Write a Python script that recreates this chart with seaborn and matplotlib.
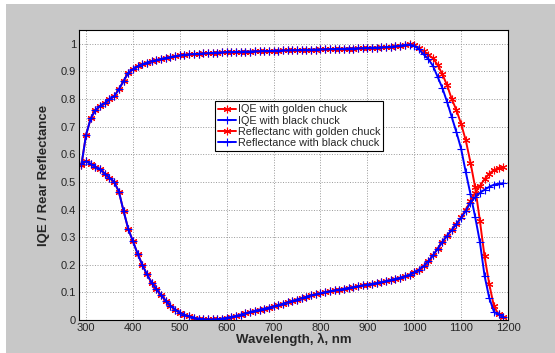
import numpy as np
import pandas as pd
import matplotlib
matplotlib.use("Agg")
import matplotlib.pyplot as plt
import seaborn as sns
from matplotlib.patches import Rectangle

# wavelength grid (nm)
wavelength = list(range(290, 1201, 10))

iqe_black = [
    0.560, 0.670, 0.730, 0.760, 0.775, 0.785, 0.800, 0.810, 0.835, 0.865,
    0.895, 0.908, 0.918, 0.926, 0.932, 0.937, 0.941, 0.945, 0.949, 0.952,
    0.955, 0.958, 0.960, 0.962, 0.963, 0.964, 0.965, 0.966, 0.967, 0.968,
    0.969, 0.970, 0.970, 0.971, 0.971, 0.972, 0.972, 0.973, 0.973, 0.974,
    0.974, 0.975, 0.975, 0.976, 0.976, 0.977, 0.977, 0.978, 0.978, 0.979,
    0.979, 0.980, 0.980, 0.981, 0.981, 0.982, 0.982, 0.983, 0.983, 0.984,
    0.984, 0.985, 0.986, 0.986, 0.987, 0.988, 0.989, 0.991, 0.993, 0.996,
    0.997, 0.993, 0.980, 0.962, 0.945, 0.920, 0.880, 0.840, 0.790, 0.735,
    0.680, 0.620, 0.535, 0.455, 0.373, 0.283, 0.160, 0.080, 0.030, 0.020,
    0.012,
]
iqe_golden = [
    0.560, 0.670, 0.730, 0.760, 0.775, 0.785, 0.800, 0.810, 0.835, 0.865,
    0.895, 0.908, 0.918, 0.926, 0.932, 0.937, 0.941, 0.945, 0.949, 0.952,
    0.955, 0.958, 0.960, 0.962, 0.963, 0.964, 0.965, 0.966, 0.967, 0.968,
    0.969, 0.970, 0.970, 0.971, 0.971, 0.972, 0.972, 0.973, 0.973, 0.974,
    0.974, 0.975, 0.975, 0.976, 0.976, 0.977, 0.977, 0.978, 0.978, 0.979,
    0.979, 0.980, 0.980, 0.981, 0.981, 0.982, 0.982, 0.983, 0.983, 0.984,
    0.984, 0.985, 0.986, 0.986, 0.987, 0.988, 0.989, 0.991, 0.993, 0.996,
    0.998, 0.995, 0.985, 0.973, 0.960, 0.948, 0.923, 0.890, 0.850, 0.800,
    0.760, 0.710, 0.650, 0.570, 0.480, 0.360, 0.230, 0.130, 0.050, 0.020,
    0.012,
]
refl_black = [
    0.565, 0.575, 0.565, 0.555, 0.545, 0.530, 0.515, 0.500, 0.465, 0.395,
    0.330, 0.285, 0.240, 0.200, 0.165, 0.135, 0.112, 0.090, 0.070, 0.052,
    0.038, 0.027, 0.019, 0.013, 0.008, 0.005, 0.003, 0.002, 0.002, 0.003,
    0.005, 0.008, 0.011, 0.015, 0.019, 0.024, 0.029, 0.033, 0.037, 0.041,
    0.045, 0.049, 0.054, 0.059, 0.064, 0.069, 0.074, 0.079, 0.084, 0.089,
    0.093, 0.097, 0.101, 0.104, 0.107, 0.110, 0.113, 0.116, 0.119, 0.122,
    0.125, 0.128, 0.131, 0.134, 0.137, 0.141, 0.145, 0.149, 0.153, 0.158,
    0.164, 0.172, 0.182, 0.195, 0.212, 0.234, 0.258, 0.283, 0.305, 0.326,
    0.347, 0.370, 0.395, 0.425, 0.445, 0.460, 0.472, 0.482, 0.490, 0.494,
    0.495, 0.495,
]
refl_golden = [
    0.565, 0.575, 0.565, 0.555, 0.545, 0.530, 0.515, 0.500, 0.465, 0.395,
    0.330, 0.285, 0.240, 0.200, 0.165, 0.135, 0.112, 0.090, 0.070, 0.052,
    0.038, 0.027, 0.019, 0.013, 0.008, 0.005, 0.003, 0.002, 0.002, 0.003,
    0.005, 0.008, 0.011, 0.015, 0.019, 0.024, 0.029, 0.033, 0.037, 0.041,
    0.045, 0.049, 0.054, 0.059, 0.064, 0.069, 0.074, 0.079, 0.084, 0.089,
    0.093, 0.097, 0.101, 0.104, 0.107, 0.110, 0.113, 0.116, 0.119, 0.122,
    0.125, 0.128, 0.131, 0.134, 0.137, 0.141, 0.145, 0.149, 0.153, 0.158,
    0.164, 0.172, 0.182, 0.195, 0.212, 0.234, 0.258, 0.283, 0.305, 0.326,
    0.347, 0.372, 0.400, 0.430, 0.460, 0.485, 0.510, 0.530, 0.543, 0.550,
    0.554, 0.555,
]

labels = ["IQE with golden chuck", "IQE with black chuck",
          "Reflectanc with golden chuck", "Reflectance with black chuck"]
series = [iqe_golden, iqe_black, refl_golden, refl_black]
colors = ["#ff0000", "#0000ff", "#ff0000", "#0000ff"]
markers = [(6, 2, 0), "+", (6, 2, 0), "+"]

n = min(len(wavelength), *[len(s) for s in series])

sns.set_style("white")
plt.rcParams['font.family'] = ['Liberation Sans', 'DejaVu Sans']

fig = plt.figure(figsize=(5.55, 3.53), dpi=100)
fig.patch.set_facecolor("white")
# gray panel behind the axes (thin white strip top/left like the screenshot)
fig.patches.append(Rectangle((6 / 555, 0), 1, 1 - 4 / 353, transform=fig.transFigure,
                             facecolor="#c8c8c8", edgecolor="none", zorder=-1))
ax = fig.add_axes([79 / 555, 1 - 320 / 353, 429 / 555, 290 / 353])

for s, lab, c, m in zip(series, labels, colors, markers):
    df = pd.DataFrame({"wl": wavelength[:n], "val": s[:n]})
    sns.lineplot(data=df, x="wl", y="val", ax=ax, color=c, marker=m, markersize=5.5,
                 markeredgewidth=0.8, markeredgecolor=c, linewidth=1.4, label=lab)

ax.set_xlim(285, 1200)
ax.set_ylim(0, 1.05)
ax.set_xticks(range(300, 1201, 100))
ax.set_yticks(np.arange(0, 1.01, 0.1))
ax.set_yticklabels(["0", "0.1", "0.2", "0.3", "0.4", "0.5", "0.6", "0.7", "0.8", "0.9", "1"])
ax.grid(True, linestyle=":", color="#999999", linewidth=0.7)
ax.tick_params(axis="both", labelsize=8, direction="in", length=3, pad=2)
for sp in ax.spines.values():
    sp.set_color("black")
    sp.set_linewidth(0.8)

ax.set_xlabel("Wavelength, λ, nm", fontsize=9.5, fontweight="bold", labelpad=0)
ax.set_ylabel("IQE / Rear Reflectance", fontsize=9.5, fontweight="bold", labelpad=8)

leg = ax.legend(loc="upper left", bbox_to_anchor=(0.317, 0.755), fontsize=7.8,
                frameon=True, fancybox=False, framealpha=1, edgecolor="black",
                handlelength=1.6, handletextpad=0.2, borderpad=0.3,
                labelspacing=0.12, borderaxespad=0)
leg.get_frame().set_linewidth(0.8)

fig.savefig("out.png", dpi=100, facecolor=fig.get_facecolor())
